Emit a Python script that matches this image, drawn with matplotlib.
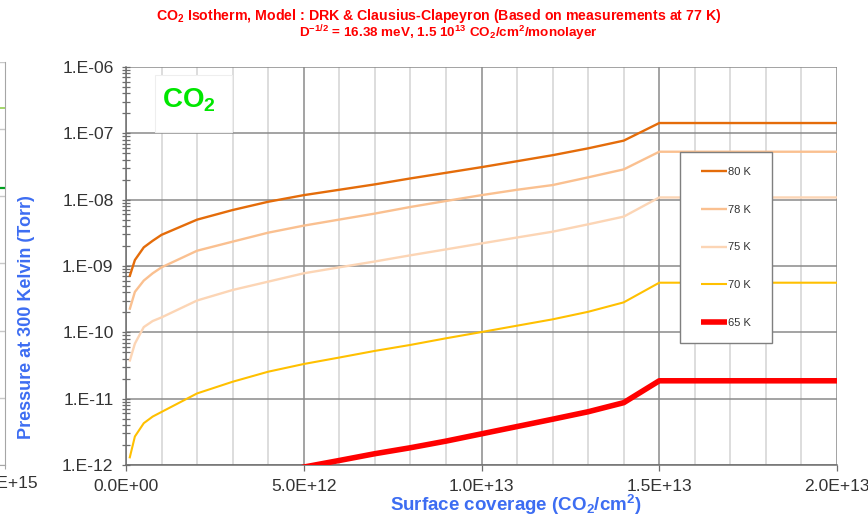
import numpy as np
import matplotlib
matplotlib.use("Agg")
import matplotlib.pyplot as plt
from matplotlib.ticker import FuncFormatter, LogLocator, NullFormatter, MultipleLocator, FixedLocator
from matplotlib.patches import Rectangle

plt.rcParams['font.family'] = ['Liberation Sans', 'DejaVu Sans']
plt.rcParams['mathtext.fontset'] = 'custom'
plt.rcParams['mathtext.rm'] = 'Liberation Sans'
plt.rcParams['mathtext.bf'] = 'Liberation Sans:bold'
plt.rcParams['mathtext.it'] = 'Liberation Sans:italic'

# Surface coverage (molecules CO2 / cm^2)
coverage = np.array([0.1, 0.25, 0.5, 0.75, 1, 2, 3, 4, 5, 6, 7, 8, 9, 10,
                     11, 12, 13, 14, 15, 20]) * 1e12

# Equilibrium pressure at 300 K (Torr) for each temperature
p_80K = [6.9e-10, 1.23e-9, 1.91e-9, 2.40e-9, 2.95e-9, 5.0e-9, 6.98e-9, 9.3e-9,
         1.17e-8, 1.41e-8, 1.70e-8, 2.09e-8, 2.54e-8, 3.09e-8, 3.80e-8, 4.68e-8,
         5.94e-8, 7.76e-8, 1.43e-7, 1.43e-7]
p_78K = [2.19e-10, 4.07e-10, 6.03e-10, 7.76e-10, 9.55e-10, 1.70e-9, 2.33e-9, 3.18e-9,
         4.06e-9, 5.01e-9, 6.17e-9, 7.76e-9, 9.55e-9, 1.17e-8, 1.41e-8, 1.66e-8,
         2.17e-8, 2.86e-8, 5.28e-8, 5.28e-8]
p_75K = [3.63e-11, 6.76e-11, 1.20e-10, 1.48e-10, 1.68e-10, 3.02e-10, 4.35e-10, 5.81e-10,
         7.76e-10, 9.55e-10, 1.17e-9, 1.45e-9, 1.78e-9, 2.19e-9, 2.69e-9, 3.29e-9,
         4.25e-9, 5.55e-9, 1.08e-8, 1.08e-8]
p_70K = [1.26e-12, 2.69e-12, 4.27e-12, 5.37e-12, 6.31e-12, 1.20e-11, 1.80e-11, 2.55e-11,
         3.33e-11, 4.17e-11, 5.25e-11, 6.46e-11, 8.13e-11, 1.01e-10, 1.26e-10, 1.57e-10,
         2.04e-10, 2.83e-10, 5.60e-10, 5.60e-10]
p_65K = [1.0e-14, 2.5e-14, 5.0e-14, 7.9e-14, 1.12e-13, 2.5e-13, 4.2e-13, 6.5e-13,
         9.3e-13, 1.17e-12, 1.48e-12, 1.82e-12, 2.29e-12, 2.95e-12, 3.80e-12, 4.90e-12,
         6.35e-12, 8.7e-12, 1.86e-11, 1.86e-11]

labels = ['80 K', '78 K', '75 K', '70 K', '65 K']
colors = ['#E46C0A', '#FAC090', '#FCD5B5', '#FFC000', '#FF0000']
widths = [1.7, 1.7, 1.7, 1.5, 4.0]

# Neighbouring panel (only its right edge is in view)
side_x = [0, 2e15]
side_light = [2.07e-7, 2.07e-7]
side_dark = [1.33e-8, 1.33e-8]

W, H = 868, 519
fig = plt.figure(figsize=(W / 100, H / 100), dpi=100)

def fx(px):
    return px / W

def fy(py):
    return 1 - py / H

blue = '#3D6DF2'
grid_dark = '#8A8A8A'
tick_col = '#333333'

# ---- neighbouring panel on the left ----
axl = fig.add_axes([fx(5 - 400), fy(465), fx(400), fy(62) - fy(465)])
axl.set_yscale('log')
axl.set_ylim(1e-12, 1e-6)
axl.set_xlim(side_x[0], side_x[1])
axl.plot(side_x, side_light, color='#92D050', lw=1.2)
axl.plot(side_x, side_dark, color='#00A020', lw=1.6)
axl.yaxis.set_major_locator(LogLocator(base=10, numticks=10))
axl.yaxis.set_minor_locator(LogLocator(base=10, subs=[], numticks=10))
axl.tick_params(axis='y', length=0, labelleft=False)
axl.grid(axis='y', color='#C8C8C8', lw=1.0)
axl.set_axisbelow(True)
axl.xaxis.set_major_locator(FixedLocator([2e15]))
axl.xaxis.set_major_formatter(FuncFormatter(lambda v, p: f"{v:.1E}"))
axl.tick_params(axis='x', direction='out', length=3, color='#A6A6A6',
                labelsize=12.6, labelcolor=tick_col, pad=5)
for s in ['top', 'left']:
    axl.spines[s].set_visible(False)
axl.spines['right'].set_color('#A6A6A6')
axl.spines['bottom'].set_color('#A6A6A6')

# ---- main isotherm panel ----
ax = fig.add_axes([fx(126), fy(465), fx(837) - fx(126), fy(67) - fy(465)])
ax.set_yscale('log')
ax.set_xlim(0, 2e13)
ax.set_ylim(1e-12, 1e-6)

series = [p_80K, p_78K, p_75K, p_70K, p_65K]
for vals, lab, col, lw in zip(series, labels, colors, widths):
    ax.plot(coverage, vals, color=col, lw=lw, label=lab, solid_capstyle='butt', zorder=3)

ax.xaxis.set_major_locator(MultipleLocator(5e12))
ax.xaxis.set_minor_locator(MultipleLocator(1e12))
ax.xaxis.set_major_formatter(FuncFormatter(lambda v, p: f"{v:.1E}"))
ax.yaxis.set_major_locator(LogLocator(base=10, numticks=10))
ax.yaxis.set_minor_locator(LogLocator(base=10, subs=np.arange(2, 10), numticks=10))
ax.yaxis.set_minor_formatter(NullFormatter())
ax.yaxis.set_major_formatter(FuncFormatter(lambda v, p: f"1.E{int(round(np.log10(v))):+03d}"))

ax.grid(which='major', axis='both', color=grid_dark, lw=1.1)
ax.grid(which='minor', axis='x', color='#DADADA', lw=1.3)
ax.set_axisbelow(True)

ax.tick_params(axis='y', which='both', direction='inout', length=6, width=0.9,
               color='#6E6E6E', labelsize=12.6, labelcolor=tick_col, pad=6)
ax.tick_params(axis='x', which='major', direction='out', length=4, width=0.9,
               color='#6E6E6E', labelsize=12.6, labelcolor=tick_col, pad=6)
ax.tick_params(axis='x', which='minor', length=0)
for s in ['top', 'right']:
    ax.spines[s].set_visible(False)
for s in ['left', 'bottom']:
    ax.spines[s].set_color('#6E6E6E')
    ax.spines[s].set_linewidth(1.1)

# CO2 tag on a white card
ax.add_patch(Rectangle((fx(155), fy(132)), fx(77), fy(75) - fy(132),
                       transform=fig.transFigure, facecolor='white',
                       edgecolor='#EEEEEE', lw=0.8, zorder=2))
fig.text(fx(162), fy(107), r"CO$_{\mathbf{2}}$", color='#00E600', fontsize=20,
         fontweight='bold', ha='left', va='baseline', zorder=5)

# Legend in a framed box
ax.add_patch(Rectangle((fx(680), fy(343)), fx(92), fy(152) - fy(343),
                       transform=fig.transFigure, facecolor='white',
                       edgecolor='#7F7F7F', lw=1.0, zorder=4))
leg = ax.legend(loc='center', bbox_to_anchor=(fx(726), fy(247.5)),
                bbox_transform=fig.transFigure, frameon=False, fontsize=8,
                handlelength=2.35, handletextpad=0.1, labelspacing=2.5,
                borderpad=0)
leg.set_zorder(6)
for t in leg.get_texts():
    t.set_color('#333333')

# Titles and axis labels
fig.text(fx(439), fy(16), "CO$_{\\mathbf{2}}$ Isotherm, Model : DRK & Clausius-Clapeyron (Based on measurements at 77 K)",
         color='#FF0000', fontsize=10.2, fontweight='bold', ha='center', va='center')
fig.text(fx(448), fy(33),
         r"D$^{\mathbf{-1/2}}$ = 16.38 meV, 1.5 10$^{\mathbf{13}}$ CO$_{\mathbf{2}}$/cm$^{\mathbf{2}}$/monolayer",
         color='#FF0000', fontsize=9.7, fontweight='bold', ha='center', va='center')
fig.text(fx(516), fy(505), r"Surface coverage (CO$_{\mathbf{2}}$/cm$^{\mathbf{2}}$)",
         color=blue, fontsize=13.5, fontweight='bold', ha='center', va='center')
fig.text(fx(27), fy(317), "Pressure at 300 Kelvin (Torr)", color=blue, fontsize=13,
         fontweight='bold', rotation=90, ha='center', va='center')

fig.savefig('out.png', dpi=100)
